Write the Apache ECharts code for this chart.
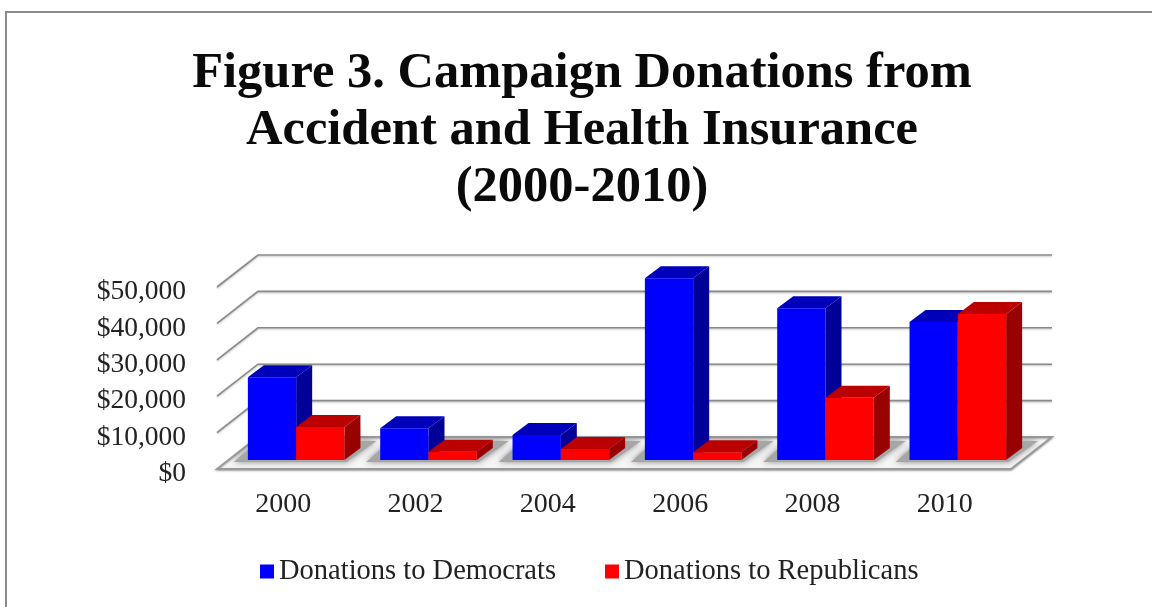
<!DOCTYPE html>
<html><head><meta charset="utf-8">
<style>html,body{margin:0;padding:0;background:#fff}#c{width:1152px;height:607px}</style>
<script src="https://cdn.jsdelivr.net/npm/echarts@6/dist/echarts.min.js"></script>
</head><body><div id="c"></div>
<script>
const titleText = "Figure 3. Campaign Donations from\nAccident and Health Insurance\n(2000-2010)";
const years = ["2000","2002","2004","2006","2008","2010"];
const democrats = [22700,8700,6900,49900,41700,37900];
const republicans = [9100,2300,3000,2100,17100,40100];
const gridValues = [0,10000,20000,30000,40000,50000];
const serifFont = '"Liberation Serif", serif';

const depth = {wx:41, wy:-32, bx:13, by:-9, bsx:16, bsy:-12};
const barW = 48.3;

function wallItem(params, api){
  const v = api.value(0);
  const p = api.coord([0, v]);
  const cs = params.coordSys;
  const left = cs.x, right = cs.x + cs.width;
  const y = p[1];
  return {type:'polyline', shape:{points:[[left,y],[left+depth.wx,y+depth.wy],[right+depth.wx,y+depth.wy]]},
    style:{stroke:'#8a8a8a', lineWidth:1.6, fill:null, shadowBlur:2, shadowColor:'rgba(0,0,0,0.25)', shadowOffsetY:1}};
}
function floorItem(params, api){
  const cs = params.coordSys;
  const y = api.coord([0,0])[1];
  const l = cs.x, r = cs.x+cs.width;
  return {type:'polygon', shape:{points:[[l,y],[l+depth.wx,y+depth.wy],[r+depth.wx,y+depth.wy],[r,y]]},
    style:{fill:'#f6f6f6', stroke:'#9a9a9a', lineWidth:1.8, shadowBlur:2, shadowColor:'rgba(0,0,0,0.3)', shadowOffsetY:1}};
}
function shadowItem(params, api){
  const c = api.value(0);
  const base = api.coord([c,0]);
  const cx = base[0]+depth.bx, y = base[1]+depth.by;
  const x0 = cx-barW, x1 = cx+barW;
  const backY = base[1]+depth.wy+4;
  return {type:'polygon', shape:{points:[[x0-14,y+2],[x1+2,y+2],[x1+32,backY],[x0+10,backY]]},
    style:{fill:'#a6a6a6', shadowBlur:6, shadowColor:'rgba(110,110,110,0.8)'}};
}
function barItem(side, front, sideCol, topCol){
  return function(params, api){
    const c = api.value(0), v = api.value(1);
    const b = api.coord([c,0]), t = api.coord([c,v]);
    const cx = b[0]+depth.bx;
    const x0 = side<0 ? cx-barW : cx, x1 = x0+barW;
    const yb = b[1]+depth.by, yt = t[1]+depth.by;
    const dx = depth.bsx, dy = depth.bsy;
    return {type:'group', children:[
      {type:'polygon', shape:{points:[[x1,yb],[x1+dx,yb+dy],[x1+dx,yt+dy],[x1,yt]]}, style:{fill:sideCol}},
      {type:'polygon', shape:{points:[[x0,yt],[x0+dx,yt+dy],[x1+dx,yt+dy],[x1,yt]]}, style:{fill:topCol}},
      {type:'rect', shape:{x:x0,y:yt,width:barW,height:yb-yt}, style:{fill:front}}
    ]};
  };
}
const chart = echarts.init(document.getElementById('c'), null, {renderer:'canvas'});
chart.setOption({
  animation:false,
  backgroundColor:'#fff',
  title:{text:titleText, left:577, textAlign:'center', top:40,
    textStyle:{fontFamily:serifFont, fontWeight:'bold', fontSize:50.5, lineHeight:57, color:'#0a0a0a'}},
  graphic:[{type:'polyline', shape:{points:[[6,607],[6,12],[1152,12]]}, style:{stroke:'#8c8c8c', lineWidth:2, fill:null}, silent:true}],
  legend:{left:255, top:552, itemWidth:14, itemHeight:14, itemGap:49, icon:'rect',
    data:['Donations to Democrats','Donations to Republicans'],
    textStyle:{fontFamily:serifFont, fontSize:28.5, color:'#222'}},
  grid:{left:217, right:141, top:287, height:182, containLabel:false},
  xAxis:{type:'category', data:years, axisLine:{show:false}, axisTick:{show:false},
    axisLabel:{fontFamily:serifFont, fontSize:28, color:'#222', margin:22}},
  yAxis:{type:'value', min:0, max:50000, interval:10000, splitLine:{show:false}, axisLine:{show:false}, axisTick:{show:false},
    axisLabel:{fontFamily:serifFont, fontSize:27.5, color:'#222', margin:31, verticalAlign:'top', lineHeight:10,
      formatter:v=>'$'+v.toLocaleString('en-US')}},
  series:[
    {type:'custom', silent:true, z:1, data:gridValues.filter(v=>v>0).map(v=>[v]), renderItem:wallItem, encode:{y:0}},
    {type:'custom', silent:true, z:2, data:[[0]], renderItem:floorItem},
    {type:'custom', silent:true, z:3, data:years.map((y,i)=>[i]), renderItem:shadowItem, encode:{x:0}},
    {name:'Donations to Democrats', type:'custom', z:4, itemStyle:{color:'#0000ff'},
      data:democrats.map((v,i)=>[i,v]), encode:{x:0,y:1}, renderItem:barItem(-1,'#0000ff','#000099','#0000bb')},
    {name:'Donations to Republicans', type:'custom', z:5, itemStyle:{color:'#ff0000'},
      data:republicans.map((v,i)=>[i,v]), encode:{x:0,y:1}, renderItem:barItem(1,'#ff0000','#990000','#bb0000')}
  ]
});
</script></body></html>
